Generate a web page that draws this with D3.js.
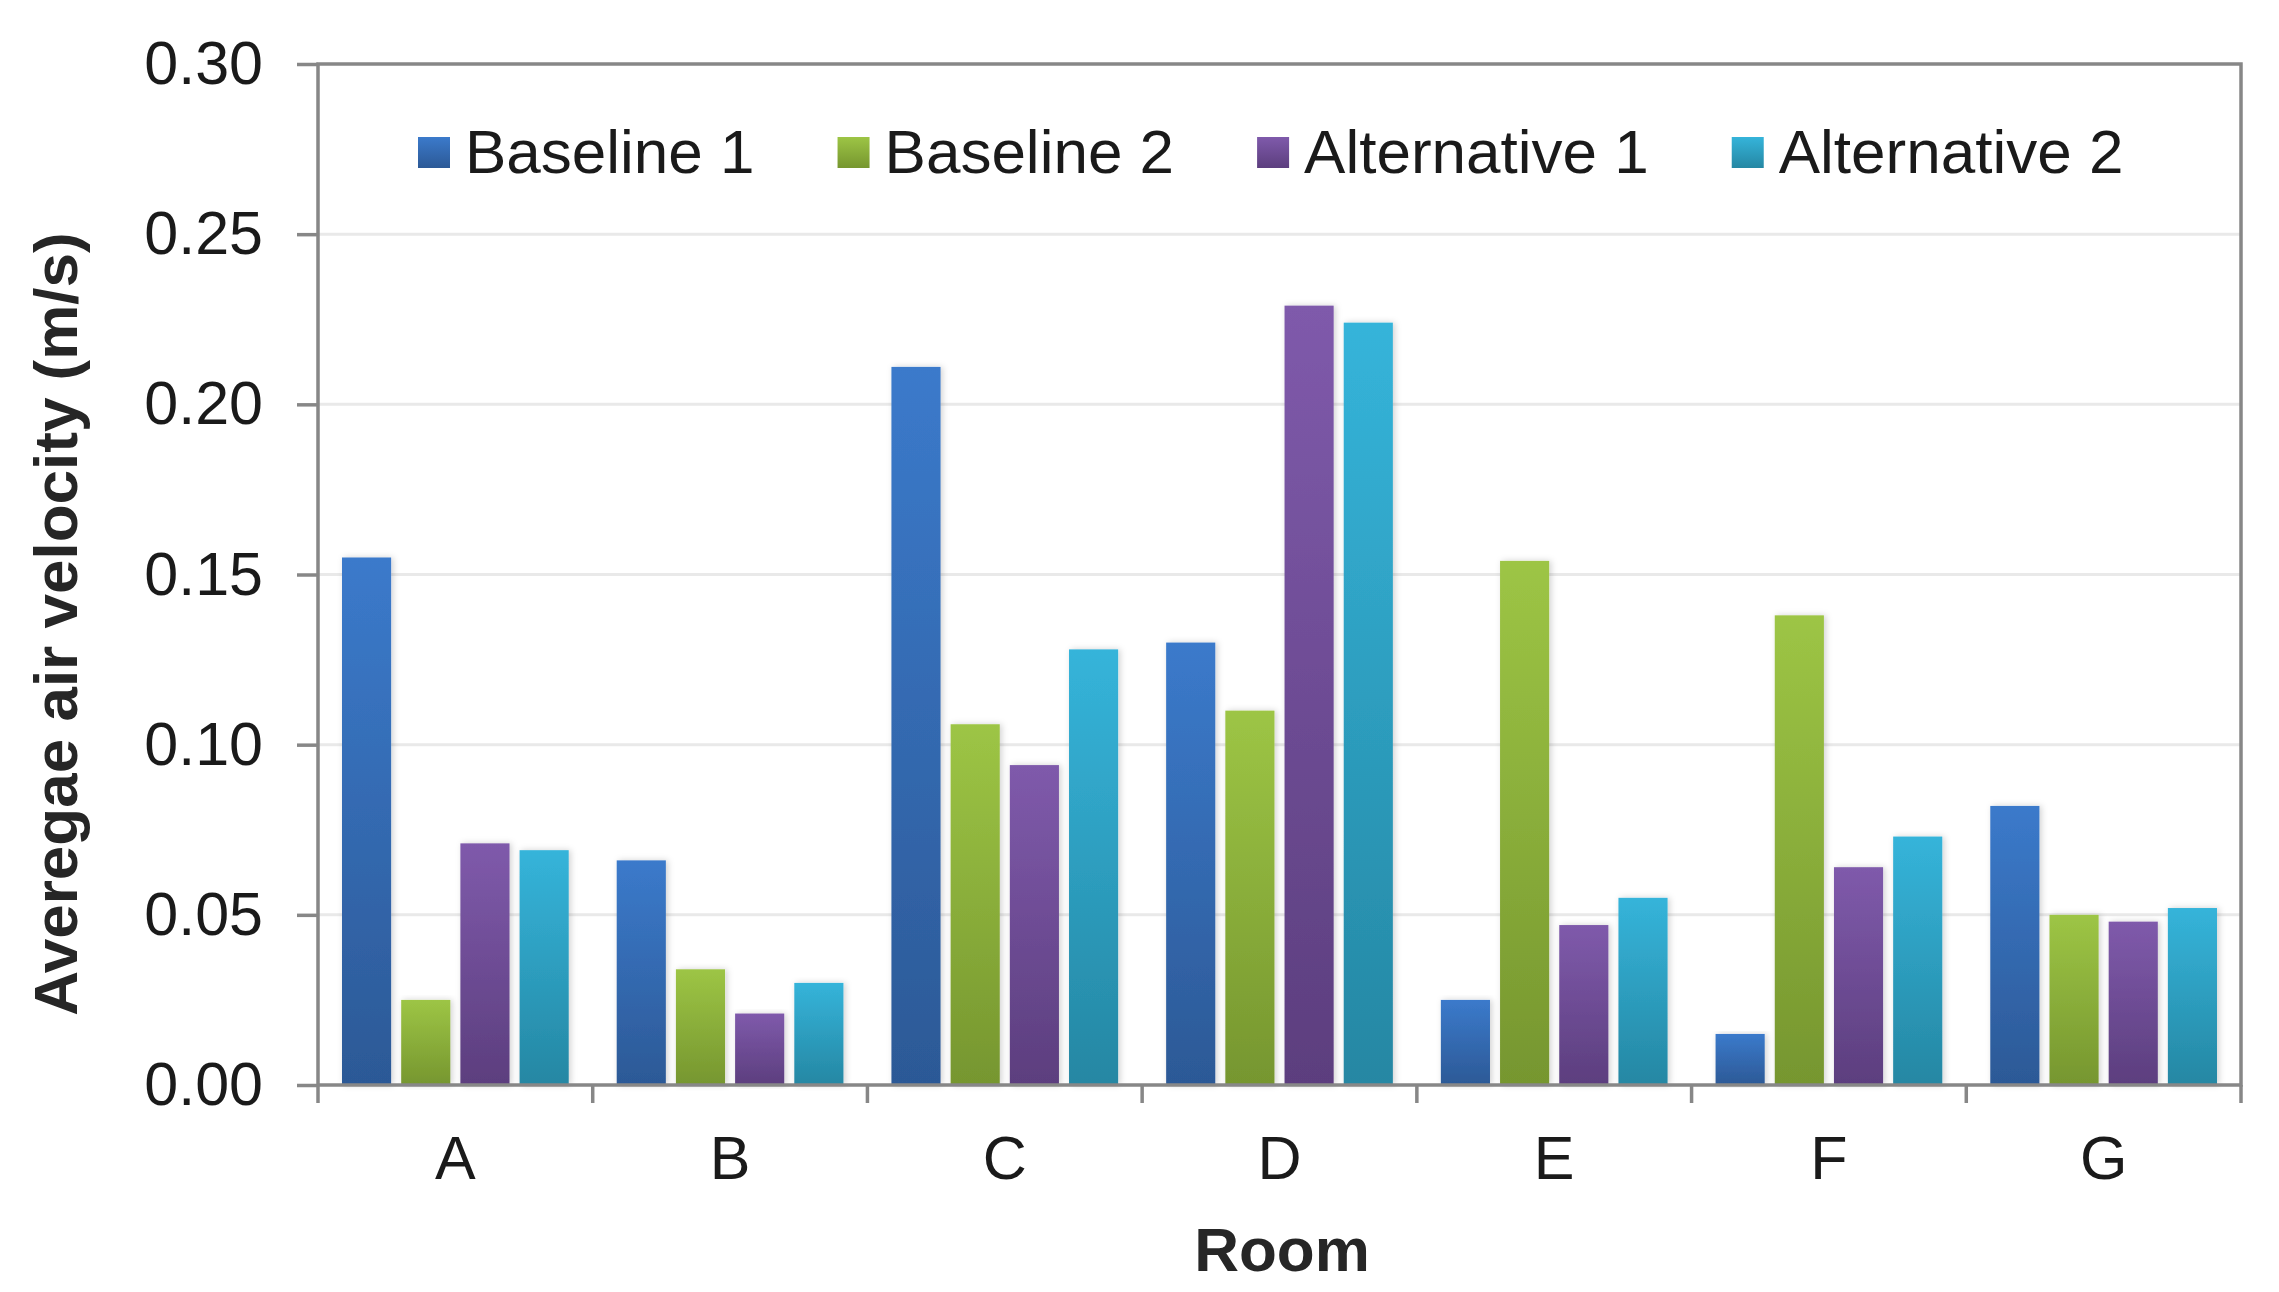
<!DOCTYPE html>
<html>
<head>
<meta charset="utf-8">
<script src="https://cdn.jsdelivr.net/npm/d3@7"></script>
<style>
  html, body { margin: 0; padding: 0; background: #fff; }
  svg { display: block; font-family: "Liberation Sans", Arial, sans-serif; }
</style>
</head>
<body>
<svg id="chart" width="2279" height="1292"></svg>
<script>
// data
var rooms = ["A", "B", "C", "D", "E", "F", "G"];
var seriesNames = ["Baseline 1", "Baseline 2", "Alternative 1", "Alternative 2"];
var baseline1 = [0.155, 0.066, 0.211, 0.130, 0.025, 0.015, 0.082];
var baseline2 = [0.025, 0.034, 0.106, 0.110, 0.154, 0.138, 0.050];
var alternative1 = [0.071, 0.021, 0.094, 0.229, 0.047, 0.064, 0.048];
var alternative2 = [0.069, 0.030, 0.128, 0.224, 0.055, 0.073, 0.052];
var yTicks = [0, 0.05, 0.10, 0.15, 0.20, 0.25, 0.30];

var seriesValues = [baseline1, baseline2, alternative1, alternative2];
// top / bottom colour of each bar gradient
var colorTop = ["#3b7acb", "#9dc545", "#7f5aab", "#35b4da"];
var colorBottom = ["#2c5996", "#76962f", "#5c3e7e", "#2587a3"];

var svg = d3.select("#chart");
var margin = { left: 318, right: 2241, top: 64, bottom: 1085 };

var x0 = d3.scaleBand().domain(rooms).range([margin.left, margin.right]).padding(0);
var groupPad = 24;
var x1 = d3.scaleBand().domain(seriesNames)
  .range([groupPad, x0.bandwidth() - groupPad])
  .paddingInner(0.17);
var y = d3.scaleLinear().domain([0, 0.30]).range([margin.bottom, margin.top]);

var defs = svg.append("defs");
seriesNames.forEach(function(s, i) {
  var g = defs.append("linearGradient")
    .attr("id", "grad" + i)
    .attr("x1", 0).attr("y1", 0).attr("x2", 0).attr("y2", 1);
  g.append("stop").attr("offset", "0%").attr("stop-color", colorTop[i]);
  g.append("stop").attr("offset", "100%").attr("stop-color", colorBottom[i]);
});
var shadow = defs.append("filter").attr("id", "shadow")
  .attr("x", "-30%").attr("y", "-5%").attr("width", "160%").attr("height", "110%");
shadow.append("feDropShadow")
  .attr("dx", 2).attr("dy", 0).attr("stdDeviation", 3)
  .attr("flood-color", "#000").attr("flood-opacity", 0.18);

// gridlines
svg.append("g")
  .selectAll("line")
  .data(yTicks.filter(function(t) { return t > 0 && t < 0.30; }))
  .enter().append("line")
  .attr("x1", margin.left).attr("x2", margin.right)
  .attr("y1", function(d) { return y(d); })
  .attr("y2", function(d) { return y(d); })
  .attr("stroke", "#e9e9e9")
  .attr("stroke-width", 3);

// bars
var rows = rooms.map(function(r, ri) {
  return { room: r, vals: seriesValues.map(function(v, si) { return { s: seriesNames[si], i: si, v: v[ri] }; }) };
});

var groups = svg.append("g")
  .selectAll(".room")
  .data(rows)
  .enter().append("g")
  .attr("class", "room")
  .attr("transform", function(d) { return "translate(" + x0(d.room) + ",0)"; });

groups.selectAll("rect")
  .data(function(d) { return d.vals; })
  .enter().append("rect")
  .attr("x", function(d) { return x1(d.s); })
  .attr("width", x1.bandwidth())
  .attr("y", function(d) { return y(d.v); })
  .attr("height", function(d) { return y(0) - y(d.v); })
  .attr("fill", function(d) { return "url(#grad" + d.i + ")"; })
  .attr("filter", "url(#shadow)");

// plot frame
var axisColor = "#878787";
svg.append("rect")
  .attr("x", margin.left).attr("y", margin.top)
  .attr("width", margin.right - margin.left)
  .attr("height", margin.bottom - margin.top)
  .attr("fill", "none")
  .attr("stroke", axisColor)
  .attr("stroke-width", 3.5);

// y axis
var yAxis = svg.append("g")
  .attr("transform", "translate(" + margin.left + ",0)")
  .call(d3.axisLeft(y).tickValues(yTicks).tickFormat(d3.format(".2f")).tickSize(21).tickPadding(34).tickSizeOuter(0));
yAxis.select(".domain").remove();
yAxis.selectAll(".tick line").attr("stroke", axisColor).attr("stroke-width", 3.5);
yAxis.selectAll(".tick text")
  .attr("fill", "#1a1a1a")
  .style("font-size", "61px")
  .style("font-family", "'Liberation Sans', Arial, sans-serif");

// x axis: ticks at category boundaries
var bounds = rooms.map(function(r) { return x0(r); }).concat([margin.right]);
svg.append("g")
  .selectAll("line")
  .data(bounds)
  .enter().append("line")
  .attr("x1", function(d) { return d; }).attr("x2", function(d) { return d; })
  .attr("y1", margin.bottom).attr("y2", margin.bottom + 18)
  .attr("stroke", axisColor)
  .attr("stroke-width", 3.5);

svg.append("g")
  .selectAll("text")
  .data(rooms)
  .enter().append("text")
  .attr("x", function(d) { return x0(d) + x0.bandwidth() / 2; })
  .attr("y", 1179)
  .attr("text-anchor", "middle")
  .attr("fill", "#1a1a1a")
  .style("font-size", "61px")
  .text(function(d) { return d; });

// axis titles
svg.append("text")
  .attr("x", 1282).attr("y", 1271)
  .attr("text-anchor", "middle")
  .attr("fill", "#262626")
  .style("font-size", "62px")
  .style("font-weight", "bold")
  .text("Room");

svg.append("text")
  .attr("transform", "translate(77,624) rotate(-90)")
  .attr("text-anchor", "middle")
  .attr("fill", "#262626")
  .style("font-size", "62px")
  .style("font-weight", "bold")
  .text("Averegae air velocity (m/s)");

// legend
var legend = svg.append("g").attr("transform", "translate(418,0)");
var lx = 0;
seriesNames.forEach(function(s, i) {
  var item = legend.append("g").attr("transform", "translate(" + lx + ",0)");
  item.append("rect")
    .attr("x", 0).attr("y", 137)
    .attr("width", 32).attr("height", 31)
    .attr("fill", "url(#grad" + i + ")");
  var t = item.append("text")
    .attr("x", 47).attr("y", 173)
    .attr("fill", "#1a1a1a")
    .style("font-size", "62px")
    .text(s);
  lx += 47 + t.node().getComputedTextLength() + 83;
});
</script>
</body>
</html>
